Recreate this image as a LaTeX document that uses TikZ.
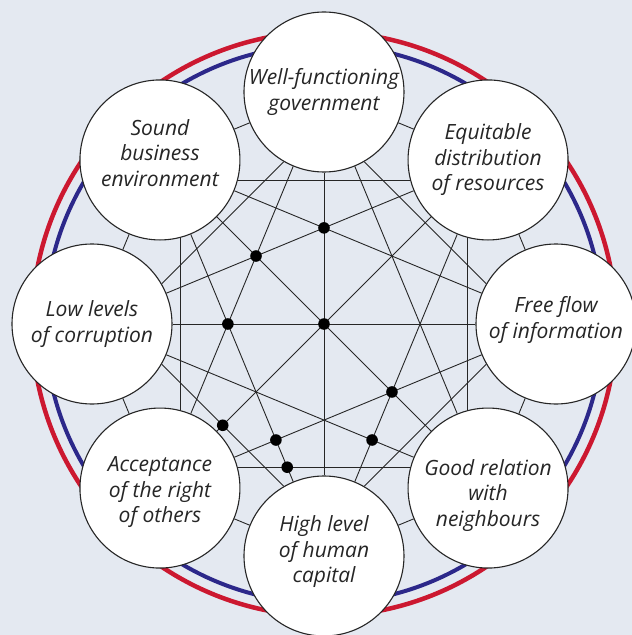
\documentclass[tikz,border=0pt]{standalone}
\usepackage{fontspec}
\setsansfont{Open Sans}
\usepackage{tikz}
\usetikzlibrary{calc}
\definecolor{panel}{RGB}{228,233,241}
\definecolor{ringred}{RGB}{204,24,48}
\definecolor{ringblue}{RGB}{44,40,138}
\def\hubsep{232pt}
\def\hubsize{160pt}

\begin{document}
\begin{tikzpicture}[x=1pt,y=1pt]
    \tikzstyle{goal}=[circle,draw=black!85,fill=white,minimum size=\hubsize,inner sep=0pt,line width=1.1pt]
    \tikzstyle{goal text}=[align=center,inner sep=0pt,font=\sffamily\itshape\fontsize{21}{25.5}\selectfont,text=black!85]
    \tikzstyle{link}=[draw=black!85,line width=0.9pt]
    \tikzstyle{hit}=[fill=black]

    % Draw the panel and the two rings
    \useasboundingbox (-324,-311) rectangle (308,324);
    \fill[panel] (-324,-311) rectangle (308,324);
    \draw[ringred,line width=4.5pt] (0,0) circle (292);
    \draw[ringblue,line width=4pt] (0,0) circle (279);

    % Draw the goal nodes
    \foreach \name / \dy / \txt in {1/0/{Well-functioning\\government},
                              2/0/{Equitable\\distribution\\of resources},
                              3/4/{Free flow\\of information},
                              4/-7/{Good relation\\with\\neighbours},
                              5/4/{High level\\of human\\capital},
                              6/-4/{Acceptance\\of the right\\of others},
                              7/0/{Low levels\\of corruption},
                              8/7/{Sound\\business\\environment}} {
        \path node[goal] (C-\name) at ({135-45*\name}:\hubsep) {};
        \path node[goal text,yshift=\dy] (T-\name) at (C-\name) {\txt};
    }

    % Draw the links: neighbours, long chords and diameters
    \foreach \i in {1,...,8} {
        \pgfmathtruncatemacro{\j}{mod(\i,8)+1}
        \pgfmathtruncatemacro{\k}{mod(\i+2,8)+1}
        \draw[link] (C-\i) -- (C-\j);
        \draw[link] (C-\i) -- (C-\k);
    }
    \foreach \i in {1,...,4} {
        \pgfmathtruncatemacro{\j}{\i+4}
        \draw[link] (C-\i) -- (C-\j);
    }

    % Draw the links that skip one node, bent inwards past it
    \foreach \i in {1,...,8} {
        \pgfmathtruncatemacro{\j}{mod(\i+1,8)+1}
        \pgfmathtruncatemacro{\a}{mod(135-45*\i-150+720,360)}
        \pgfmathtruncatemacro{\b}{mod(135-45*\i+60+720,360)}
        \draw[link] (C-\i.\a) -- (C-\j.\b);
    }

    % Draw the dots
    \fill[hit] (intersection of C-1--C-5 and C-7--C-3) circle (5.8);
    \fill[hit] (intersection of C-1--C-5 and C-2--C-7) circle (5.8);
    \fill[hit] (intersection of C-8--C-4 and C-2--C-7) circle (5.8);
    \fill[hit] (intersection of C-7--C-3 and C-8--C-5) circle (5.8);
    \fill[hit] (intersection of C-8--C-4 and C-3--C-6) circle (5.8);
    \fill[hit] (intersection of C-2--C-6 and C-5.120--C-7.330) circle (5.8);
    \fill[hit] (intersection of C-8--C-5 and C-6--C-3) circle (5.8);
    \fill[hit] (intersection of C-7--C-4 and C-2--C-5) circle (5.8);
    \fill[hit] (intersection of C-8--C-5 and C-4.165--C-6.15) circle (5.8);
\end{tikzpicture}
\end{document}
